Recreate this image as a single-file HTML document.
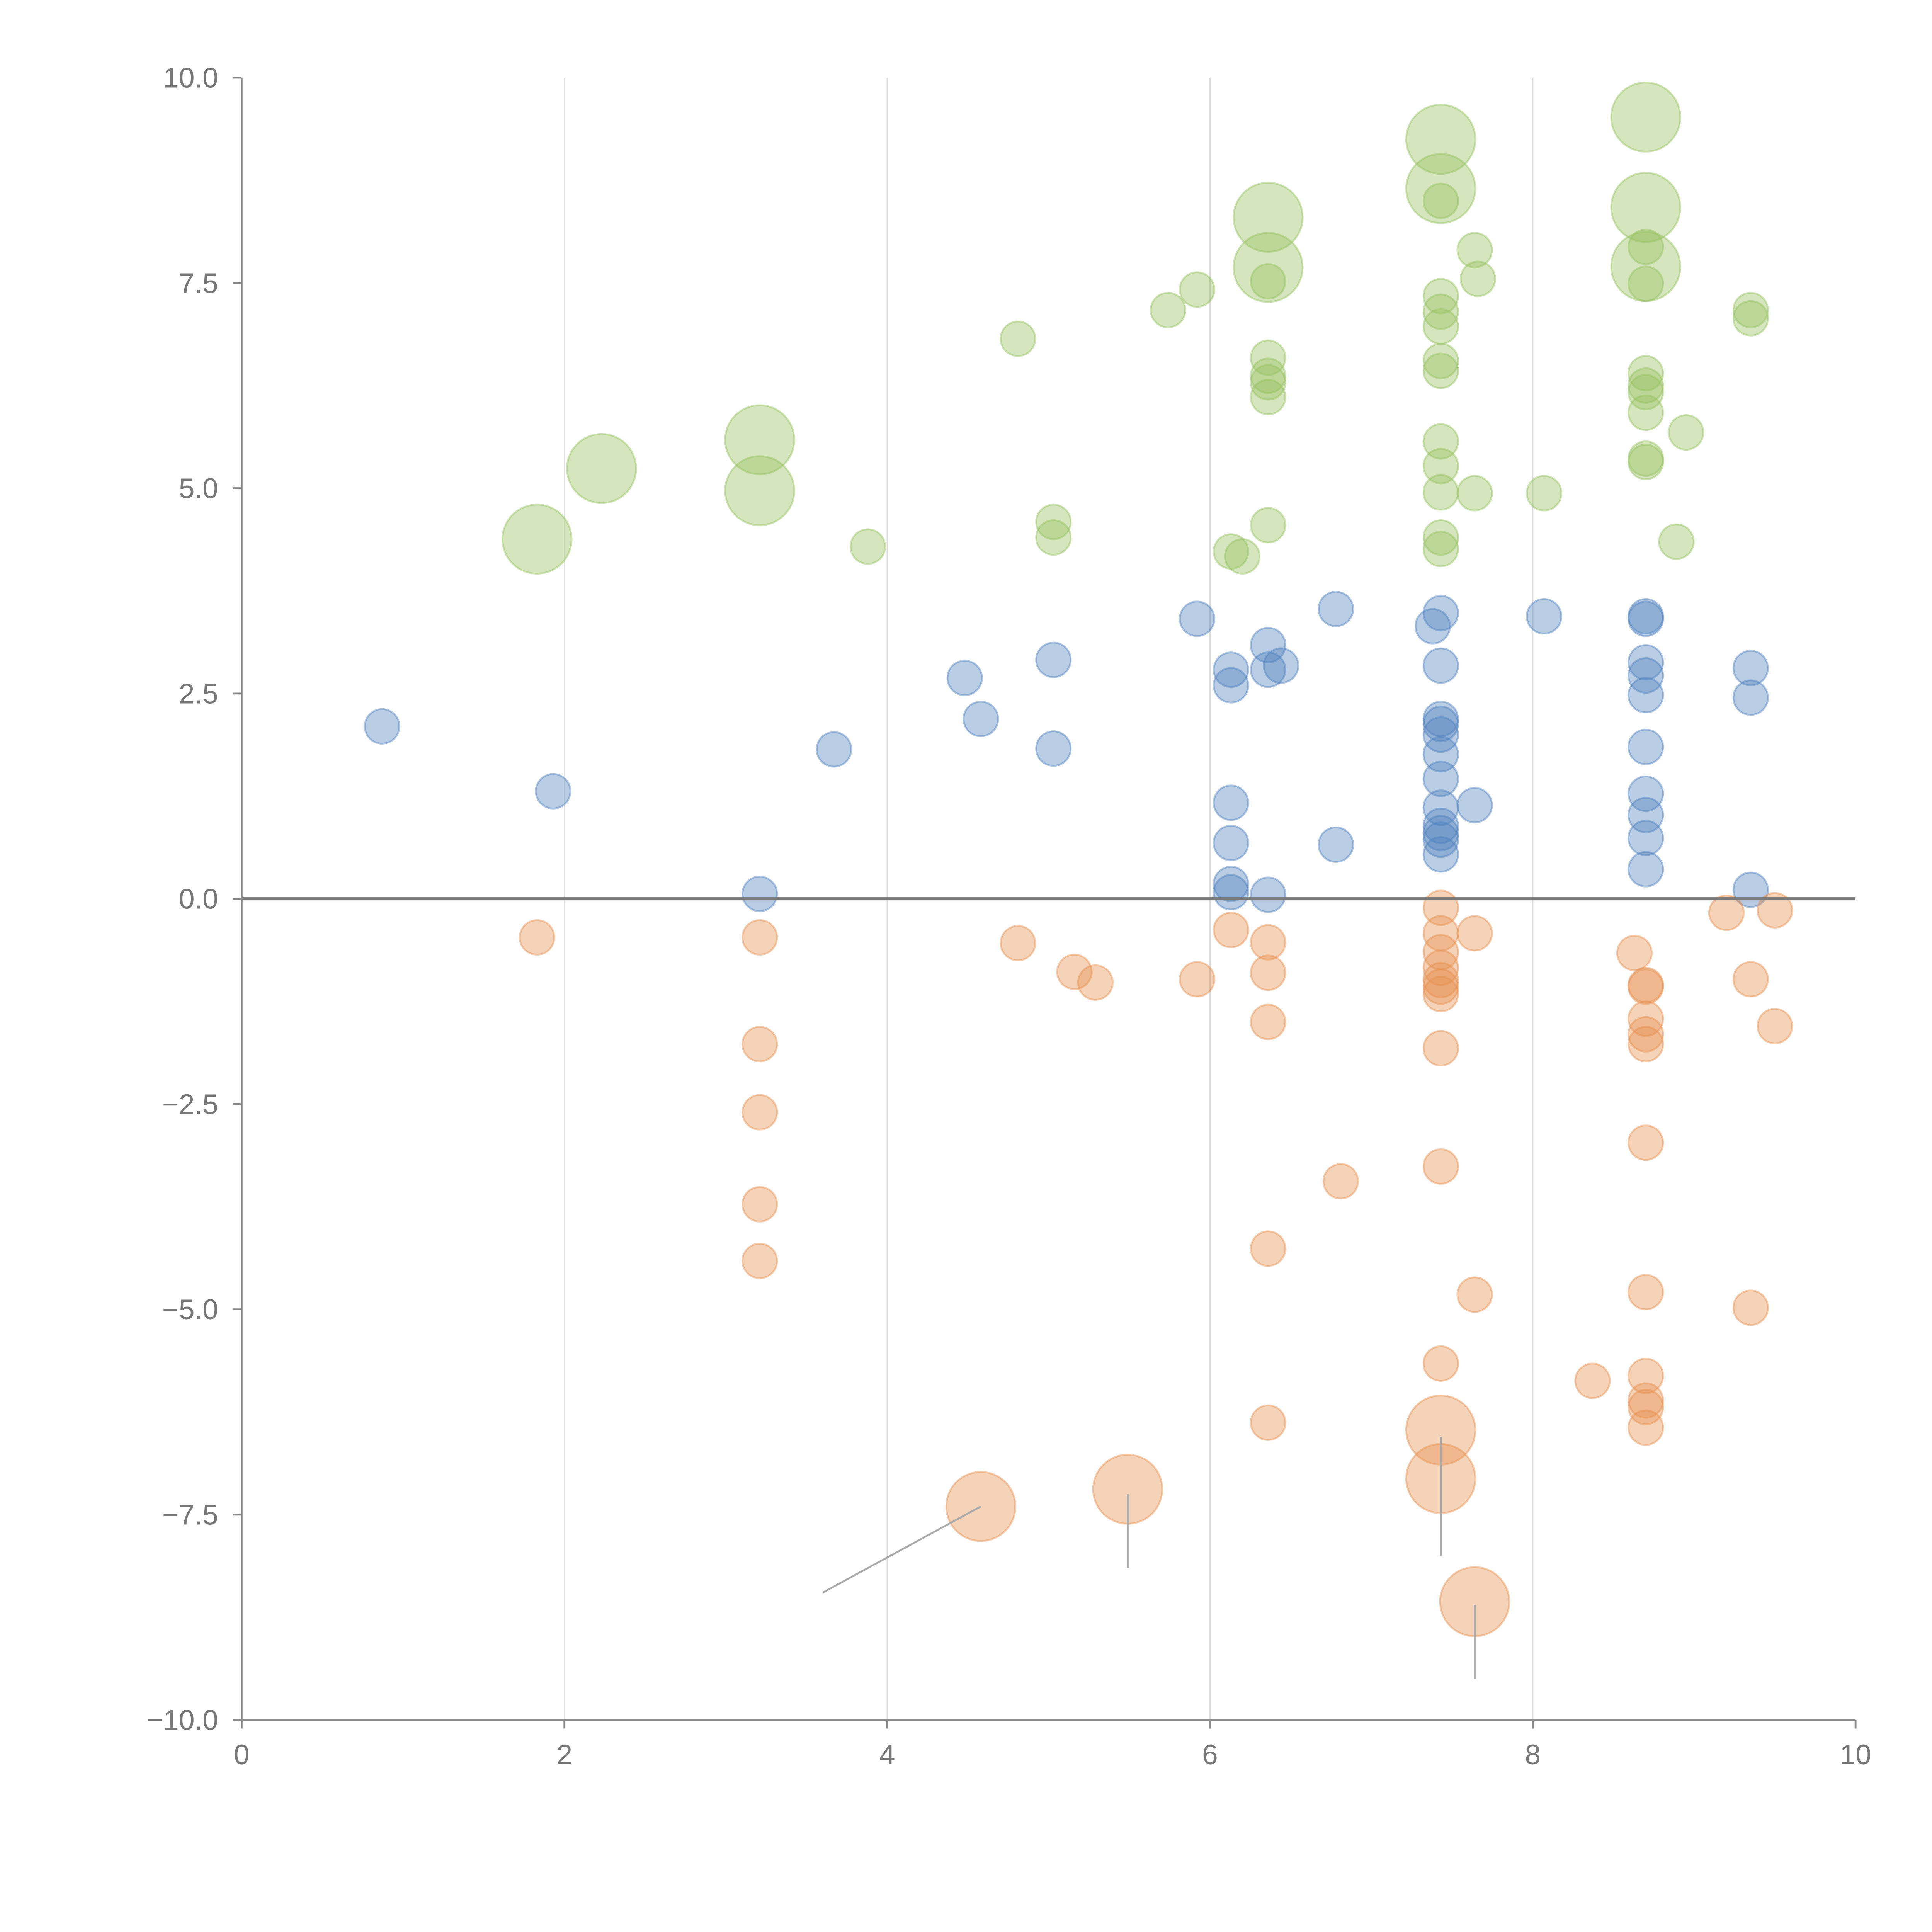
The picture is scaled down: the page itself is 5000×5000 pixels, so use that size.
<!DOCTYPE html>
<html><head><meta charset="utf-8"><style>
html,body{margin:0;padding:0;background:#fff;}
svg{display:block;}
text{font-family:"Liberation Sans",Arial,sans-serif;fill:#777;}
</style></head><body>
<svg id="chart" width="5000" height="5000" viewBox="0 0 1567 1567" xmlns="http://www.w3.org/2000/svg">
<g id="grid"></g>
<g id="marks"></g>
<g id="axes"></g>
</svg>
<script>
const xTicks=[0,2,4,6,8,10];
const yTicks=[-10,-7.5,-5,-2.5,0,2.5,5,7.5,10];
const yTickLabels=["\u221210.0","\u22127.5","\u22125.0","\u22122.5","0.0","2.5","5.0","7.5","10.0"];
const greenX=[8.70,7.43,7.43,7.43,6.36,8.70,8.70,7.64,7.66,6.36,6.36,8.70,8.70,9.35,9.35,5.92,5.74,4.81,7.43,7.43,7.43,6.36,6.36,6.36,6.36,7.43,7.43,8.70,8.70,8.70,8.70,8.95,3.21,2.23,3.21,1.83,7.43,7.43,7.43,7.64,8.07,8.70,8.70,5.03,5.03,7.43,7.43,6.36,8.89,3.88,6.13,6.20];
const greenY=[9.52,9.25,8.65,8.50,8.30,8.42,7.94,7.90,7.55,7.69,7.52,7.70,7.49,7.17,7.07,7.42,7.17,6.82,7.34,7.15,6.97,6.59,6.37,6.11,6.29,6.55,6.43,6.40,6.25,6.17,5.92,5.68,5.59,5.24,4.97,4.38,5.57,5.27,4.95,4.94,4.94,5.36,5.32,4.59,4.40,4.40,4.26,4.55,4.35,4.29,4.23,4.17];
const greenSize=[4,4,4,1,4,4,1,1,1,4,1,4,1,1,1,1,1,1,1,1,1,1,1,1,1,1,1,1,1,1,1,1,4,4,4,4,1,1,1,1,1,1,1,1,1,1,1,1,1,1,1,1];
const blueX=[0.87,1.93,3.21,3.67,4.48,4.58,5.03,5.03,5.92,6.13,6.13,6.13,6.13,6.13,6.13,6.36,6.36,6.44,6.36,6.78,6.78,7.38,7.43,7.43,7.43,7.43,7.43,7.43,7.43,7.43,7.43,7.43,7.43,7.43,7.64,8.07,8.70,8.70,8.70,8.70,8.70,8.70,8.70,8.70,8.70,8.70,9.35,9.35,9.35];
const blueY=[2.10,1.31,0.06,1.82,2.69,2.19,2.91,1.83,3.41,2.79,2.60,1.17,0.68,0.18,0.08,3.09,2.79,2.84,0.05,3.53,0.66,3.32,3.48,2.84,2.19,2.13,2.00,1.76,1.46,1.11,0.89,0.80,0.72,0.54,1.14,3.44,3.44,3.41,2.88,2.72,2.48,1.85,1.28,1.02,0.74,0.36,2.81,2.45,0.11];
const orangeX=[1.83,3.21,3.21,3.21,3.21,3.21,4.81,5.16,5.29,5.92,6.13,6.36,6.36,6.36,6.36,6.36,6.81,7.43,7.43,7.43,7.43,7.43,7.43,7.43,7.43,7.43,7.43,7.43,7.43,7.64,7.64,7.64,5.49,4.58,8.37,8.63,8.70,8.70,8.70,8.70,8.70,8.70,8.70,8.70,8.70,8.70,8.70,9.20,9.50,9.50,9.35,9.35];
const orangeY=[-0.47,-0.47,-1.77,-2.60,-3.72,-4.41,-0.54,-0.89,-1.02,-0.98,-0.38,-0.53,-0.90,-1.50,-4.26,-6.38,-3.44,-0.11,-0.42,-0.65,-0.84,-0.99,-1.07,-1.16,-1.82,-3.26,-5.66,-6.47,-7.06,-0.42,-4.82,-8.56,-7.19,-7.40,-5.87,-0.66,-1.05,-1.07,-1.46,-1.65,-1.77,-2.97,-4.79,-5.81,-6.11,-6.19,-6.44,-0.17,-0.14,-1.55,-0.98,-4.98];
const orangeSize=[1,1,1,1,1,1,1,1,1,1,1,1,1,1,1,1,1,1,1,1,1,1,1,1,1,1,1,4,4,1,1,4,4,4,1,1,1,1,1,1,1,1,1,1,1,1,1,1,1,1,1,1];
const leaderFromX=[4.58,5.49,7.43,7.64];
const leaderFromY=[-7.40,-7.25,-6.55,-8.6];
const leaderToX=[3.60,5.49,7.43,7.64];
const leaderToY=[-8.45,-8.15,-8.0,-9.5];

const NS="http://www.w3.org/2000/svg";
const X0=196,X1=1505,Y0=1395,Y1=63;
const sx=v=>X0+(v-0)/(10-0)*(X1-X0);
const sy=v=>Y0-(v+10)/20*(Y0-Y1);
const rr=s=>14*Math.sqrt(s);
function mk(tag,attrs,parent){const e=document.createElementNS(NS,tag);for(const k in attrs)e.setAttribute(k,attrs[k]);parent.appendChild(e);return e;}
const grid=document.getElementById('grid'),marks=document.getElementById('marks'),axes=document.getElementById('axes');
xTicks.forEach(t=>{if(t>0&&t<10){const l=mk('line',{x1:sx(t),x2:sx(t),y1:Y1,y2:Y0,stroke:'#ddd','stroke-width':1},grid);

}});
function series(xs,ys,ss,fill,name){xs.forEach((x,i)=>{const c=mk('circle',{cx:sx(x),cy:sy(ys[i]),r:rr(ss?ss[i]:1),fill:fill,'fill-opacity':0.4,stroke:fill,'stroke-opacity':0.45,'stroke-width':1.5},marks);

});}
series(greenX,greenY,greenSize,'rgb(150,192,95)','green-bubble');
series(blueX,blueY,null,'rgb(79,129,189)','blue-bubble');
series(orangeX,orangeY,orangeSize,'rgb(230,145,80)','orange-bubble');
leaderFromX.forEach((x,i)=>{const l=mk('line',{x1:sx(x),y1:sy(leaderFromY[i]),x2:sx(leaderToX[i]),y2:sy(leaderToY[i]),stroke:'#aaa','stroke-width':1.5},marks);

});
const zl=mk('line',{x1:X0,x2:X1,y1:sy(0),y2:sy(0),stroke:'#777','stroke-width':2.5},axes);


const ya=mk('line',{x1:X0,x2:X0,y1:Y1,y2:Y0,stroke:'#888','stroke-width':1.5},axes);


const xa=mk('line',{x1:X0,x2:X1,y1:Y0,y2:Y0,stroke:'#888','stroke-width':1.5},axes);


yTicks.forEach((t,i)=>{mk('line',{x1:X0-7,x2:X0,y1:sy(t),y2:sy(t),stroke:'#888','stroke-width':1.5},axes);
const tx=mk('text',{x:X0-19,y:sy(t)+8,'text-anchor':'end','font-size':23},axes);tx.textContent=yTickLabels[i];

});
xTicks.forEach(t=>{mk('line',{x1:sx(t),x2:sx(t),y1:Y0,y2:Y0+7,stroke:'#888','stroke-width':1.5},axes);
const tx=mk('text',{x:sx(t),y:Y0+36,'text-anchor':'middle','font-size':23},axes);tx.textContent=String(t);

});
</script>
</body></html>
